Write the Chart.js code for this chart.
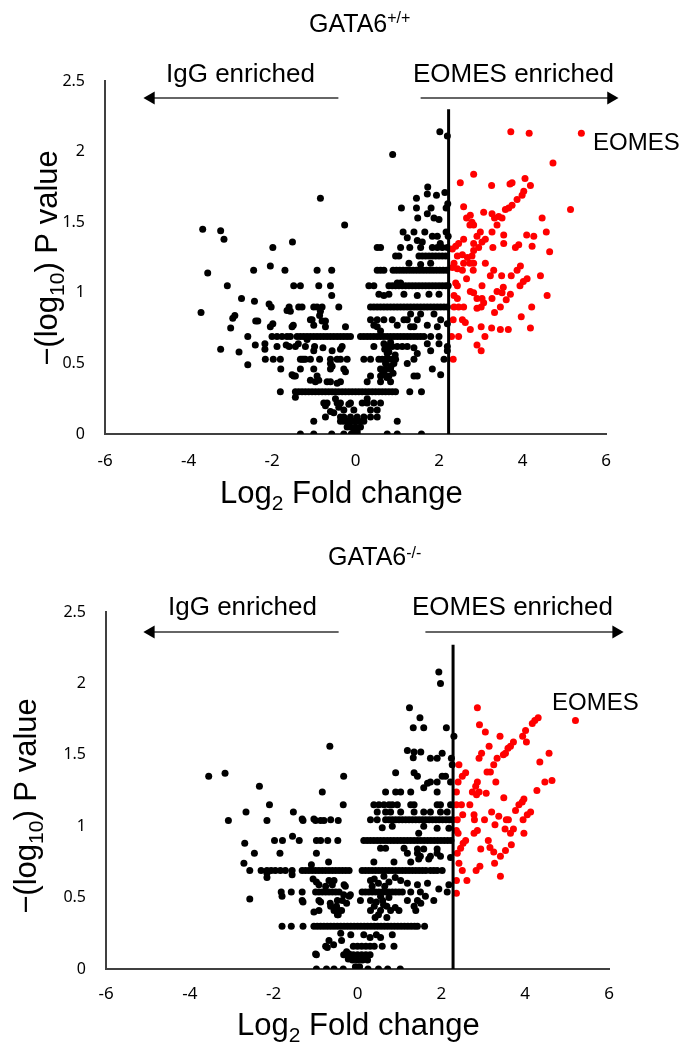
<!DOCTYPE html>
<html>
<head>
<meta charset="utf-8">
<script src="https://cdn.jsdelivr.net/npm/chart.js@4.4.1/dist/chart.umd.min.js"></script>
<style>
html,body{margin:0;padding:0;background:#fff;}
canvas{display:block;}
</style>
</head>
<body>
<canvas id="wt" width="682" height="523"></canvas>
<canvas id="ko" width="682" height="523"></canvas>
<script>
// ---- GATA6+/+ : log2 fold change, -log10 p ----
var wtRed = [
 [3.72,2.14],[4.16,2.13],[5.41,2.13],[4.73,1.92],[2.83,1.84],[2.51,1.78],[3.26,1.76],[3.70,1.77],[3.75,1.78],
 [4.06,1.81],[4.19,1.76],[4.03,1.72],[3.99,1.69],[3.87,1.66],[3.75,1.62],[3.67,1.60],[3.59,1.59],[5.15,1.59],
 [2.59,1.61],[3.07,1.57],[3.27,1.56],[3.33,1.53],[3.43,1.54],[3.51,1.53],[2.66,1.53],[2.75,1.55],[2.79,1.50],
 [2.74,1.48],[2.83,1.48],[3.39,1.48],[4.47,1.53],[4.57,1.43],[4.10,1.41],[4.27,1.40],[3.55,1.41],[3.55,1.35],
 [3.27,1.43],[2.99,1.43],[2.91,1.40],[3.11,1.38],[3.03,1.36],[2.83,1.35],[2.95,1.32],[2.83,1.30],[2.79,1.26],
 [2.59,1.38],[2.47,1.35],[2.40,1.33],[2.32,1.31],[3.29,1.32],[3.83,1.32],[3.91,1.34],[4.23,1.33],[4.65,1.29],
 [2.44,1.26],[2.56,1.27],[2.68,1.25],[2.74,1.21],[2.59,1.21],[2.83,1.21],[2.36,1.21],[2.32,1.18],[2.44,1.17],
 [2.56,1.16],[3.11,1.21],[2.82,1.16],[3.31,1.16],[3.23,1.12],[3.95,1.19],[3.87,1.16],[3.73,1.12],[3.50,1.12],
 [4.43,1.12],[4.11,1.10],[4.02,1.08],[3.94,1.05],[2.66,1.10],[2.40,1.07],[2.44,1.05],[3.03,1.05],[3.54,1.04],
 [3.39,1.01],[3.51,1.00],[3.71,0.99],[2.75,1.01],[2.83,1.00],[2.91,0.96],[3.03,0.96],[3.07,0.93],[3.27,0.96],
 [2.36,0.98],[2.44,0.96],[2.36,0.90],[2.47,0.90],[2.59,0.90],[4.59,0.98],[3.61,0.95],[3.47,0.90],[2.91,0.89],
 [3.01,0.90],[4.22,0.90],[3.33,0.86],[3.97,0.83],[2.34,0.81],[2.56,0.81],[2.63,0.79],[2.75,0.74],[3.01,0.76],
 [3.26,0.75],[3.47,0.74],[3.66,0.74],[4.19,0.75],[2.30,0.69],[2.47,0.69],[3.10,0.69],[2.91,0.63],[3.01,0.59],
 [2.34,0.53]
];
var wtBlack = [
 [-3.66,1.45],[-3.23,1.44],[-3.15,1.38],[-3.54,1.14],[-3.07,1.05],[-3.70,0.86],[-2.73,0.96],[-2.94,0.82],
 [-2.89,0.84],[-2.99,0.75],[-3.23,0.60],[-2.79,0.58],[-2.58,0.69],[-2.58,0.49],[-2.42,0.94],[-2.44,1.16],
 [-2.39,0.80],[-2.34,0.80],[-2.40,0.63],[-2.17,0.64],[-2.17,0.60],[-2.16,0.53],[-1.97,0.53],[-1.80,0.53],
 [-2.04,1.19],[-1.98,1.32],[-1.69,1.16],[-1.51,1.36],[-2.07,0.92],[-2.02,0.90],[-1.98,0.78],[-2.04,0.76],
 [-1.79,0.46],[-1.80,0.30],[-1.64,0.875],[-1.59,0.90],[-1.36,0.90],[-1.28,0.90],[-1.48,1.05],[-1.32,1.05],
 [-1.49,0.77],[-1.52,0.76],[-1.37,0.64],[-1.28,0.53],[-1.20,0.53],[-1.32,0.46],[-1.52,0.42],[-1.44,0.41],
 [-1.44,0.26],[-1.88,0.62],[-1.44,0.62],[-1.20,0.62],[-1.66,0.63],[-1.59,0.62],[-1.56,0.87],[-1.04,0.81],
 [-1.08,0.81],[-0.84,0.87],
 [-2.00,0.69],[-1.88,0.69],[-1.76,0.69],[-1.64,0.69],[-1.56,0.69],[-1.40,0.69],[-1.32,0.69],[-1.24,0.69],
 [-1.16,0.69],[-1.08,0.69],[-1.00,0.69],[-0.92,0.69],[-0.84,0.69],[-0.76,0.69],[-0.68,0.69],[-0.60,0.69],
 [-0.52,0.69],[-0.44,0.69],[-0.36,0.69],[-0.28,0.69],[-0.20,0.69],[-0.12,0.69],[0.12,0.69],[0.20,0.69],
 [0.28,0.69],[0.36,0.69],[0.44,0.69],[0.52,0.69],[0.60,0.69],[0.68,0.69],[0.76,0.69],[0.84,0.69],[0.92,0.69],
 [1.00,0.69],[1.08,0.69],[1.16,0.69],[1.24,0.69],[1.32,0.69],[1.40,0.69],[1.48,0.69],[1.56,0.69],[1.64,0.69],
 [1.80,0.69],[2.00,0.69],
 [-1.44,0.30],[-1.36,0.30],[-1.28,0.30],[-1.20,0.30],[-1.12,0.30],[-1.04,0.30],[-0.96,0.30],[-0.88,0.30],
 [-0.80,0.30],[-0.72,0.30],[-0.64,0.30],[-0.56,0.30],[-0.48,0.30],[-0.40,0.30],[-0.32,0.30],[-0.24,0.30],
 [-0.16,0.30],[-0.08,0.30],[0.00,0.30],[0.08,0.30],[0.16,0.30],[0.24,0.30],[0.32,0.30],[0.40,0.30],[0.48,0.30],
 [0.56,0.30],[0.64,0.30],[0.72,0.30],[0.80,0.30],[0.88,0.30],[0.96,0.30],[1.30,0.30],[1.58,0.30],
 [-1.32,0],[-1.00,0],[-0.57,0],[-0.28,0],[-0.10,0],[-0.02,0],[0.04,0],[0.76,0],[1.00,0],[1.58,0],
 [-1.00,0.09],[-0.84,1.67],[-0.26,1.48],[-0.92,1.16],[-0.57,1.16],[-0.88,1.05],[-0.60,1.05],[-0.57,0.98],
 [-1.00,0.90],[-0.92,0.90],[-0.80,0.90],[-0.40,0.90],[-0.86,0.84],[-0.80,0.80],[-0.72,0.80],[-1.00,0.77],
 [-0.72,0.76],[-0.24,0.76],[-1.16,0.67],[-0.98,0.62],[-0.78,0.61],[-0.36,0.60],[-0.32,0.62],[-1.00,0.59],
 [-0.56,0.59],[-1.32,0.53],[-1.24,0.53],[-1.08,0.53],[-0.86,0.53],[-0.60,0.53],[-0.44,0.53],[-0.36,0.53],
 [-0.20,0.53],[-0.60,0.50],[-0.56,0.48],[-1.00,0.46],[-0.60,0.46],[-0.28,0.46],[-0.24,0.44],[-1.48,0.41],
 [-0.92,0.41],[-1.08,0.38],[-0.96,0.37],[-0.88,0.38],[-0.68,0.37],[-0.60,0.37],[-0.44,0.36],[-0.36,0.37],
 [-0.48,0.25],[-0.76,0.22],[-0.68,0.22],[-0.44,0.22],[-0.36,0.22],[-0.12,0.22],[-0.72,0.20],[-0.60,0.16],
 [-0.52,0.15],[-0.40,0.19],[-0.28,0.17],[-0.16,0.21],[-0.04,0.17],[-0.72,0.12],[-0.36,0.12],[-0.28,0.12],
 [-0.12,0.12],[0.04,0.12],[0.20,0.12],[0.36,0.12],[0.52,0.12],[-0.36,0.09],[-0.28,0.09],[-0.20,0.09],
 [-0.12,0.09],[-0.04,0.09],[0.08,0.09],[0.20,0.09],[1.00,0.09],[-0.20,0.05],[-0.12,0.05],[0.00,0.05],
 [0.12,0.05],[-0.04,0.02],[0.04,0.02],
 [0.16,0.22],[0.28,0.22],[0.44,0.22],[0.60,0.22],[0.28,0.25],[0.36,0.17],[0.52,0.17],[0.28,0.37],[0.60,0.37],
 [0.84,0.37],[0.36,0.41],[0.60,0.41],[0.70,0.42],[0.80,0.41],[0.90,0.43],[1.40,0.41],[1.48,0.41],[2.04,0.42],
 [0.65,0.44],[0.75,0.40],[0.85,0.48],[0.95,0.56],[0.80,0.58],[0.70,0.60],
 [0.60,0.46],[0.72,0.46],[0.84,0.46],[1.84,0.46],[0.72,0.50],[0.92,0.50],[1.24,0.50],
 [0.20,0.53],[0.36,0.53],[0.56,0.53],[0.64,0.53],[0.72,0.53],[0.80,0.53],[0.88,0.53],[0.96,0.53],[1.40,0.53],
 [2.12,0.53],[0.76,0.57],[1.48,0.57],[1.80,0.59],[2.20,0.59],
 [0.44,0.62],[0.76,0.62],[0.88,0.62],[1.00,0.62],[1.12,0.62],[1.24,0.62],[1.40,0.61],[0.68,0.64],[0.84,0.65],
 [1.72,0.64],[2.00,0.64],[2.20,0.62],
 [0.44,0.77],[0.60,0.73],[1.00,0.77],[1.40,0.76],[1.72,0.77],[2.20,0.78],[0.52,0.76],[1.32,0.76],[1.96,0.76],
 [0.36,0.81],[0.52,0.81],[0.68,0.81],[0.88,0.81],[1.16,0.81],[1.24,0.81],[1.48,0.81],[2.04,0.81],
 [1.32,0.85],[1.56,0.85],[1.88,0.85],
 [0.36,0.90],[0.44,0.90],[0.52,0.90],[0.60,0.90],[0.68,0.90],[0.76,0.90],[0.84,0.90],[0.92,0.90],[1.00,0.90],
 [1.08,0.90],[1.16,0.90],[1.24,0.90],[1.32,0.90],[1.40,0.90],[1.48,0.90],[1.56,0.90],[1.64,0.90],[1.72,0.90],
 [1.80,0.90],[1.88,0.90],[1.96,0.90],[2.04,0.90],[2.12,0.90],[2.20,0.90],
 [0.56,0.99],[0.68,0.98],[0.80,0.99],[1.16,0.99],[1.48,0.98],[1.76,0.99],[2.00,0.99],
 [0.32,1.05],[0.44,1.05],[0.80,1.05],[0.88,1.05],[0.96,1.05],[1.04,1.05],[1.12,1.05],[1.20,1.05],[1.28,1.05],
 [1.36,1.05],[1.44,1.05],[1.52,1.05],[1.60,1.05],[1.68,1.05],[1.76,1.05],[1.84,1.05],[1.92,1.05],[2.00,1.05],
 [2.08,1.05],[2.16,1.05],[2.22,1.05],[1.00,1.07],[1.08,1.07],
 [0.52,1.16],[0.60,1.16],[0.68,1.16],[0.90,1.16],[0.98,1.16],[1.06,1.16],[1.14,1.16],[1.22,1.16],[1.30,1.16],
 [1.38,1.16],[1.46,1.16],[1.54,1.16],[1.62,1.16],[1.70,1.16],[1.78,1.16],[1.86,1.16],[1.94,1.16],[2.02,1.16],
 [2.10,1.16],[2.18,1.16],[1.28,1.21],[1.56,1.20],[1.80,1.21],
 [0.96,1.26],[1.04,1.26],[1.52,1.26],[1.60,1.26],[1.68,1.26],[1.76,1.26],[1.84,1.26],[1.92,1.26],[2.00,1.26],
 [2.08,1.26],[2.16,1.26],
 [0.52,1.32],[0.60,1.32],[1.08,1.32],[1.30,1.32],[1.56,1.32],[1.84,1.32],[1.96,1.32],[2.08,1.32],[2.20,1.32],
 [1.14,1.43],[1.40,1.43],[1.66,1.43],[1.24,1.39],[1.48,1.37],[1.60,1.36],[1.84,1.40],[1.96,1.40],[2.03,1.35],
 [2.17,1.43],[2.22,1.40],[1.10,1.60],[1.46,1.60],[1.49,1.53],[1.81,1.60],[1.72,1.56],[1.88,1.53],[2.00,1.52],
 [2.17,1.60],[2.21,1.63],[1.73,1.75],[1.46,1.67],[1.72,1.70],[1.94,1.69],[2.14,1.71],[0.89,1.98],[2.02,2.14],
 [2.20,2.11]
];
var wtCut = [[2.23,0],[2.23,2.30]];
var wtArrowIgG = [[-0.41,2.38],[-4.90,2.38]];
var wtArrowEomes = [[1.56,2.38],[6.12,2.38]];

// ---- GATA6-/- ----
var koRed = [
 [2.86,1.83],[2.91,1.71],[3.05,1.66],[3.40,1.63],[3.14,1.56],[2.96,1.51],[2.90,1.475],[3.72,1.59],[3.65,1.56],
 [3.59,1.545],[3.53,1.51],[3.48,1.50],[3.94,1.63],[4.03,1.59],[4.01,1.67],[4.17,1.72],[4.23,1.74],[4.31,1.76],
 [5.20,1.74],[4.57,1.51],[4.35,1.45],[3.33,1.475],[3.25,1.43],[3.17,1.38],[3.09,1.38],[2.42,1.43],[2.58,1.375],
 [2.50,1.35],[2.40,1.31],[2.86,1.31],[2.82,1.28],[2.90,1.24],[2.74,1.24],[2.84,1.22],[3.30,1.31],[3.07,1.23],
 [4.64,1.32],[4.47,1.31],[4.28,1.25],[2.36,1.24],[3.49,1.20],[3.97,1.19],[3.93,1.17],[3.85,1.15],[3.77,1.11],
 [4.13,1.10],[4.05,1.08],[3.95,1.045],[2.36,1.15],[2.48,1.15],[2.68,1.15],[2.51,1.08],[2.78,1.08],[2.79,1.045],
 [3.20,1.10],[3.37,1.07],[3.55,1.045],[3.60,1.045],[3.03,1.045],[2.38,1.045],[3.28,1.01],[3.52,0.98],[3.65,0.95],
 [3.72,0.98],[3.97,0.95],[2.36,0.97],[2.40,0.95],[2.78,0.95],[2.86,0.97],[2.58,0.90],[2.52,0.88],[2.46,0.845],
 [2.38,0.81],[3.12,0.90],[3.16,0.85],[3.25,0.82],[3.41,0.79],[3.67,0.87],[3.53,0.83],[2.94,0.84],[3.27,0.74],
 [2.42,0.74],[2.50,0.69],[2.92,0.72],[2.83,0.69],[3.41,0.65],[2.36,0.62],[2.61,0.62],[2.36,0.53]
];
var koBlack = [
 [-3.55,1.35],[-3.16,1.37],[-3.08,1.04],[-2.34,1.28],[-2.66,1.10],[-2.10,1.15],[-2.16,1.04],[-1.53,1.10],
 [-1.30,1.04],[-1.00,1.04],[-0.88,1.04],[-0.80,1.04],[-0.46,1.04],[-0.64,1.045],[-0.84,1.24],[-0.34,1.15],
 [-0.33,1.35],[-0.66,1.56],[-2.69,0.88],[-2.46,0.81],[-1.98,0.90],[-1.79,0.90],[-1.55,0.93],[-1.39,0.90],
 [-1.85,0.81],[-0.98,0.90],[-0.88,0.90],[-0.71,0.90],[-0.47,0.90],[-0.98,0.81],[-0.69,0.75],[-2.71,0.74],
 [-2.16,0.64],[-2.16,0.67],[-1.56,0.66],[-1.10,0.73],
 [-2.57,0.69],[-2.30,0.69],[-2.16,0.69],[-2.06,0.69],[-1.96,0.69],[-1.84,0.69],[-1.72,0.69],[-1.56,0.69],
 [-1.32,0.69],[-1.24,0.69],[-1.16,0.69],[-1.08,0.69],[-1.00,0.69],[-0.92,0.69],[-0.84,0.69],[-0.76,0.69],
 [-0.68,0.69],[-0.60,0.69],[-0.52,0.69],[-0.44,0.69],[-0.36,0.69],[-0.28,0.69],[-0.20,0.69],
 [0.11,0.69],[0.19,0.69],[0.27,0.69],[0.35,0.69],[0.43,0.69],[0.51,0.69],[0.59,0.69],[0.67,0.69],[0.75,0.69],
 [0.83,0.69],[0.91,0.69],[0.99,0.69],[1.07,0.69],[1.15,0.69],[1.23,0.69],[1.31,0.69],[1.39,0.69],[1.47,0.69],
 [1.55,0.69],[1.63,0.69],[1.74,0.69],[1.82,0.69],[1.90,0.69],[2.02,0.69],
 [-1.82,0.54],[-1.58,0.54],[-1.32,0.54],[-1.00,0.54],[-0.92,0.54],[-0.84,0.54],[-0.76,0.54],[-0.68,0.54],
 [-0.60,0.54],[-0.52,0.54],[-0.44,0.54],[-0.33,0.52],[-0.17,0.52],[0.11,0.54],[0.19,0.54],[0.27,0.54],
 [0.35,0.54],[0.43,0.54],[0.51,0.54],[0.59,0.54],[0.67,0.54],[0.75,0.54],[0.83,0.54],[0.91,0.54],[0.99,0.54],
 [1.07,0.54],[1.27,0.54],[1.50,0.54],[2.14,0.54],
 [-1.06,0.63],[-0.98,0.61],[-0.76,0.58],[-0.29,0.58],[-2.57,0.49],[-1.30,0.47],[-0.88,0.47],[-0.65,0.46],
 [-0.50,0.44],[-0.38,0.41],[-0.26,0.46],[-1.04,0.40],[-0.46,0.38],
 [-1.80,0.30],[-1.58,0.30],[-1.30,0.30],[-1.04,0.30],[-0.96,0.30],[-0.88,0.30],[-0.80,0.30],[-0.72,0.30],
 [-0.64,0.30],[-0.56,0.30],[-0.48,0.30],[-0.40,0.30],[-0.32,0.30],[-0.24,0.30],[-0.16,0.30],[-0.08,0.30],
 [0.00,0.30],[0.08,0.30],[0.16,0.30],[0.24,0.30],[0.32,0.30],[0.40,0.30],[0.48,0.30],[0.56,0.30],[0.64,0.30],
 [0.72,0.30],[0.80,0.30],[0.88,0.30],[0.96,0.30],[1.04,0.30],[1.12,0.30],[1.20,0.30],[1.28,0.30],[1.36,0.30],
 [1.43,0.30],[1.60,0.30],
 [-0.98,0.10],[-0.72,0.15],[-0.57,0.17],[-0.38,0.20],[-0.33,0.10],[-0.26,0.12],[-0.22,0.07],
 [0.39,1.15],[0.51,1.15],[0.63,1.15],[0.75,1.15],[0.83,1.15],[0.95,1.15],[1.27,1.15],[1.35,1.15],[1.90,1.15],
 [1.98,1.15],[2.22,1.15],
 [0.47,1.10],[0.67,1.10],[0.79,1.10],[1.03,1.10],[1.35,1.10],[1.58,1.10],[1.74,1.10],[1.98,1.10],[2.14,1.10],
 [-1.32,1.05],[-1.04,1.05],[0.31,1.045],[0.47,1.045],[0.67,1.045],[0.75,1.045],[0.83,1.045],[0.91,1.045],
 [0.99,1.045],[1.07,1.045],[1.15,1.045],[1.23,1.045],[1.31,1.045],[1.39,1.045],[1.47,1.045],[1.55,1.045],
 [1.63,1.045],[1.71,1.045],[1.79,1.045],[1.87,1.045],[1.95,1.045],[2.03,1.045],[2.11,1.045],[2.19,1.045],
 [2.26,1.045],
 [0.59,0.99],[0.83,1.00],[1.58,1.00],[1.46,0.95],[1.90,0.985],[2.18,0.985],
 [0.15,0.90],[0.23,0.90],[0.31,0.90],[0.39,0.90],[0.47,0.90],[0.55,0.90],[0.63,0.90],[0.71,0.90],[0.79,0.90],
 [0.87,0.90],[0.95,0.90],[1.03,0.90],[1.11,0.90],[1.19,0.90],[1.27,0.90],[1.35,0.90],[1.43,0.90],[1.51,0.90],
 [1.59,0.90],[1.67,0.90],[1.75,0.90],[1.83,0.90],[1.91,0.90],[1.99,0.90],[2.07,0.90],[2.15,0.90],[2.23,0.90],
 [0.55,0.845],[0.67,0.845],[1.11,0.845],[1.43,0.84],[1.58,0.84],[1.90,0.84],[1.19,0.81],[1.43,0.81],[1.90,0.81],
 [1.50,0.79],[1.74,0.79],[1.98,0.79],[1.46,0.77],[1.70,0.77],[2.22,0.78],[0.39,0.75],[0.87,0.75],[1.27,0.75],
 [-0.68,0.62],[-0.56,0.62],[0.31,0.62],[0.40,0.63],[0.50,0.60],[0.63,0.65],[0.75,0.61],[0.90,0.64],[1.03,0.62],
 [1.19,0.60],[1.43,0.59],[1.67,0.60],[1.94,0.56],[2.18,0.59],[-0.92,0.59],[-0.60,0.59],[-0.32,0.59],
 [-1.80,0.51],[-0.20,0.51],[-1.32,0.48],[-0.92,0.48],[-0.48,0.48],[-0.36,0.48],[0.07,0.48],[0.31,0.48],
 [0.45,0.47],[0.60,0.48],[1.19,0.48],[1.43,0.48],[1.82,0.48],[1.51,0.46],[1.62,0.51],
 [0.35,0.58],[0.55,0.51],[0.65,0.58],[0.75,0.50],[0.62,0.45],[0.50,0.38],[0.70,0.36],[0.42,0.36],
 [-0.92,0.41],[-0.56,0.41],[-0.44,0.41],[0.31,0.41],[0.55,0.41],[0.79,0.41],[0.99,0.41],[-0.64,0.44],
 [1.35,0.44],[1.39,0.41],[0.40,0.44],[0.70,0.44],[0.90,0.43],[-0.48,0.38],
 [-0.40,0.25],[-0.16,0.24],[0.15,0.24],[0.30,0.22],[0.45,0.24],[0.55,0.22],[0.83,0.24],[0.87,0.16],[-0.68,0.20],
 [-0.76,0.16],[-0.10,0.16],[0.00,0.16],[0.10,0.16],[0.20,0.16],[0.30,0.16],[0.40,0.16],[0.59,0.16],
 [-1.00,0.105],[-0.20,0.105],[-0.10,0.10],[0.00,0.10],[0.10,0.10],[0.20,0.10],[0.30,0.10],
 [-0.12,0.063],[0.00,0.063],[0.12,0.063],[0.24,0.063],[-0.05,0.016],[0.05,0.016],
 [-0.98,0],[-0.74,0],[-0.56,0],[-0.34,0],[-0.03,0],[0.25,0],[0.50,0],[0.72,0],[1.02,0],
 [1.94,2.08],[1.98,2.00],[1.24,1.83],[1.49,1.76],[1.33,1.69],[1.58,1.69],[2.12,1.69],[2.30,1.63],[1.19,1.53],
 [1.35,1.52],[1.51,1.52],[1.33,1.48],[1.74,1.475],[1.90,1.475],[2.02,1.51],[2.24,1.475],[2.26,1.43],
 [0.91,1.375],[1.35,1.375],[1.43,1.35],[1.67,1.30],[1.74,1.31],[1.90,1.31],[2.02,1.35],[2.10,1.35],[2.22,1.31],
 [0.67,1.24],[0.91,1.24],[1.03,1.24],[1.27,1.24],[1.90,1.24],[1.58,1.27]
];
var koCut = [[2.28,0],[2.28,2.27]];
var koArrowIgG = [[-0.45,2.36],[-4.93,2.36]];
var koArrowEomes = [[1.62,2.36],[6.17,2.36]];

var xTicks = [-6, -4, -2, 0, 2, 4, 6];
var yTicks = [0, 0.5, 1, 1.5, 2, 2.5];

var LABEL_FONT = '"Liberation Sans", Arial, sans-serif';
Chart.defaults.font.family = '"Noto Sans", sans-serif';
Chart.defaults.color = '#000';

function pts(a) {
    var out = [];
    for (var i = 0; i < a.length; i++) out.push({x: a[i][0], y: a[i][1]});
    return out;
}

function drawRich(ctx, it) {
    ctx.save();
    ctx.fillStyle = '#000';
    ctx.textBaseline = 'alphabetic';
    ctx.textAlign = 'left';
    ctx.translate(it.x, it.y);
    if (it.rot) ctx.rotate(it.rot * Math.PI / 180);
    var w = 0, i;
    for (i = 0; i < it.parts.length; i++) {
        ctx.font = it.parts[i][1] + 'px ' + LABEL_FONT;
        w += ctx.measureText(it.parts[i][0]).width;
    }
    var cx = it.center ? -w / 2 : 0;
    for (i = 0; i < it.parts.length; i++) {
        var p = it.parts[i];
        ctx.font = p[1] + 'px ' + LABEL_FONT;
        ctx.fillText(p[0], cx, p[2]);
        cx += ctx.measureText(p[0]).width;
    }
    ctx.restore();
}

function volcano(id, cfg) {
    var arrow = function(data, rot) {
        return {
            type: 'line', data: pts(data), borderColor: '#333', borderWidth: 1.5,
            pointRadius: [0, 7.5], pointStyle: 'triangle', pointRotation: [0, rot],
            pointBackgroundColor: '#000', pointBorderWidth: 0, clip: false
        };
    };
    var labels = {
        id: 'labels',
        afterDraw: function(chart) {
            for (var i = 0; i < cfg.texts.length; i++) drawRich(chart.ctx, cfg.texts[i]);
        }
    };
    return new Chart(document.getElementById(id), {
        type: 'scatter',
        data: {
            datasets: [
                { type: 'line', data: pts(cfg.cut), borderColor: '#000', borderWidth: 3, pointRadius: 0, clip: false },
                arrow(cfg.arrowL, -90),
                arrow(cfg.arrowR, 90),
                { data: pts(cfg.red), pointRadius: 3.5, pointBackgroundColor: '#ff0000', pointBorderWidth: 0 },
                { data: pts(cfg.black), pointRadius: 3.5, pointBackgroundColor: '#000', pointBorderWidth: 0 }
            ]
        },
        options: {
            responsive: false,
            animation: false,
            events: [],
            layout: { padding: cfg.pad },
            plugins: { legend: { display: false }, tooltip: { enabled: false } },
            scales: {
                x: {
                    type: 'linear', min: -6, max: 6,
                    afterBuildTicks: function(s) { s.ticks = xTicks.map(function(v) { return {value: v}; }); },
                    afterFit: function(s) { s.height = cfg.xH; },
                    grid: { display: false, drawTicks: false },
                    border: { display: true, color: '#404040', width: 2 },
                    ticks: { font: { size: 17 }, padding: cfg.xPad, color: '#000',
                             callback: function(v) { return String(v); } }
                },
                y: {
                    min: 0, max: 2.5,
                    afterBuildTicks: function(s) { s.ticks = yTicks.map(function(v) { return {value: v}; }); },
                    afterFit: function(s) { s.width = cfg.yW; },
                    grid: { display: false, drawTicks: false },
                    border: { display: true, color: '#404040', width: 2 },
                    ticks: { font: { size: 16 }, padding: 20, color: '#000',
                             callback: function(v) { return String(v); } }
                }
            }
        },
        plugins: [labels]
    });
}

volcano('wt', {
    red: wtRed, black: wtBlack, cut: wtCut, arrowL: wtArrowIgG, arrowR: wtArrowEomes,
    pad: { top: 81, right: 76, left: 0, bottom: 0 }, yW: 105, xH: 89, xPad: 17,
    texts: [
        { parts: [['GATA6', 25, 0], ['+/+', 16, -9]], x: 309, y: 32 },
        { parts: [['IgG enriched', 26, 0]], x: 166, y: 82 },
        { parts: [['EOMES enriched', 26, 0]], x: 413, y: 82 },
        { parts: [['EOMES', 24, 0]], x: 593, y: 150 },
        { parts: [['\u2212(log', 31, 0], ['10', 21, 7], [') P value', 31, 0]], x: 57, y: 258, rot: -90, center: true },
        { parts: [['Log', 31, 0], ['2', 21, 7], [' Fold change', 31, 0]], x: 220, y: 503 }
    ]
});

volcano('ko', {
    red: koRed, black: koBlack, cut: koCut, arrowL: koArrowIgG, arrowR: koArrowEomes,
    pad: { top: 89, right: 73, left: 0, bottom: 0 }, yW: 106, xH: 77, xPad: 15,
    texts: [
        { parts: [['GATA6', 25, 0], ['-/-', 16, -7]], x: 328, y: 42 },
        { parts: [['IgG enriched', 26, 0]], x: 168, y: 92 },
        { parts: [['EOMES enriched', 26, 0]], x: 412, y: 92 },
        { parts: [['EOMES', 24, 0]], x: 552, y: 187 },
        { parts: [['\u2212(log', 31, 0], ['10', 21, 7], [') P value', 31, 0]], x: 36, y: 283, rot: -90, center: true },
        { parts: [['Log', 31, 0], ['2', 21, 7], [' Fold change', 31, 0]], x: 237, y: 512 }
    ]
});
</script>
</body>
</html>
